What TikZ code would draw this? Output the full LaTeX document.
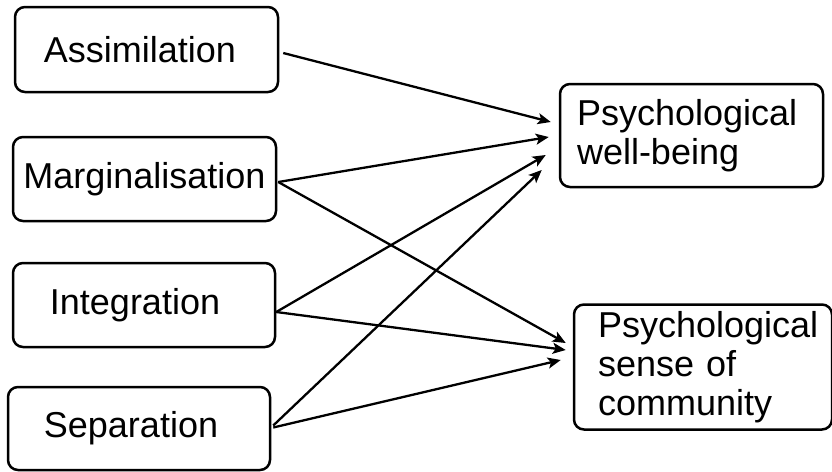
\documentclass[tikz,border=0pt]{standalone}
\usepackage{fontspec}
\setmainfont{Liberation Sans}
\usetikzlibrary{arrows.meta,calc}
\tikzset{
  box/.style={draw=black, line width=2.5pt, rounded corners=10pt, inner sep=0pt,
    font=\fontsize{36}{39}\selectfont},
  rbox/.style={box, align=left},
  conn/.style={line width=2.3pt, -{Stealth[length=13pt,width=11pt,inset=3pt]}}
}
\begin{document}
\begin{tikzpicture}[x=1pt,y=-1pt]
\useasboundingbox[fill=white] (0,0) rectangle (832,471);
\node[box, minimum width=263pt, minimum height=85pt] (assim) at (146.5,49.5) {\raisebox{-4pt}{\kern-13pt Assimilation}};
\node[box, minimum width=263pt, minimum height=84pt] (marg) at (144.5,179) {Marginalisation};
\node[box, minimum width=262pt, minimum height=84pt] (integ) at (144,305) {\kern-18pt Integration};
\node[box, minimum width=262pt, minimum height=83pt] (sep) at (139,428.5) {\kern-16pt Separation};
\node[rbox, text width=229pt, minimum width=263pt, minimum height=103pt] (wb) at (691.5,135.5) {Psychological\\well-being};
\node[rbox, text width=210pt, minimum width=258pt, minimum height=125pt] (comm) at (703,367) {Psychological\\sense of\\community};

\draw[conn] ($(assim.east)+(4,3.5)$) -- ($(wb.west)+(-8,-13.5)$);
\draw[conn] ($(marg.east)+(1,3)$) -- ($(wb.west)+(-10,1.5)$);
\draw[conn] ($(integ.east)+(0,7)$) -- ($(wb.west)+(-13,19.5)$);
\draw[conn] ($(sep.east)+(2,-3)$) -- ($(wb.west)+(-17,34.5)$);
\draw[conn] ($(marg.east)+(1,3)$) -- ($(comm.west)+(-7,-24)$);
\draw[conn] ($(integ.east)+(0,7)$) -- ($(comm.west)+(-7,-17)$);
\draw[conn] ($(sep.east)+(2,-1)$) -- ($(comm.west)+(-12,-7)$);
\end{tikzpicture}
\end{document}
